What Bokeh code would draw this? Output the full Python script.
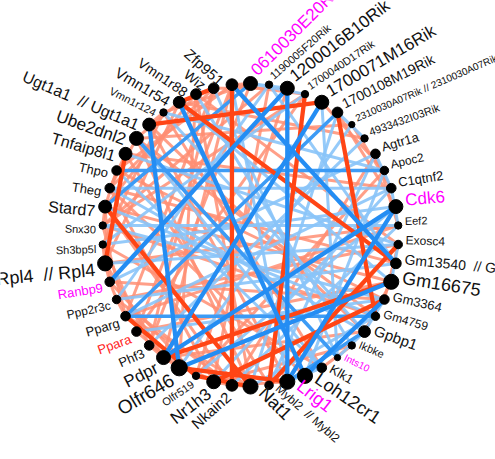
import numpy as np
from bokeh.plotting import figure
from bokeh.models import ColumnDataSource, Range1d
from bokeh.core.properties import value
from bokeh.embed import file_html
from bokeh.resources import INLINE

# ---- network data -------------------------------------------------------
genes = [
    "0610030E20Rik", "1190005F20Rik", "1200016B10Rik", "1700040D17Rik",
    "1700071M16Rik", "1700108M19Rik", "2310030A07Rik // 2310030A07Rik",
    "4933432I03Rik", "Agtr1a", "Apoc2", "C1qtnf2", "Cdk6", "Eef2", "Exosc4",
    "Gm13540\u00a0 // Gm13540", "Gm16675", "Gm3364", "Gm4759", "Gpbp1", "Ikbke",
    "Ints10", "Klk1", "Loh12cr1", "Lrig1", "Mybl2\u00a0 // Mybl2", "Nat1",
    "Nkain2", "Nr1h3", "Olfr519", "Olfr646", "Pdpr", "Phf3", "Ppara", "Pparg",
    "Ppp2r3c", "Ranbp9", "Rpl4\u00a0 // Rpl4", "Sh3bp5l", "Snx30", "Stard7",
    "Theg", "Thpo", "Tnfaip8l1", "Ube2dnl2", "Ugt1a1\u00a0 // Ugt1a1",
    "Vmn1r124", "Vmn1r54", "Vmn1r88", "Wiz", "Zfp951",
]
degree = [
    10, 4, 10, 4, 10, 7, 3, 4, 6, 5, 6, 10, 4, 5, 7, 11, 6, 5, 8, 4,
    3, 6, 11, 11, 5, 11, 8, 10, 4, 12, 10, 6, 6, 6, 5, 6, 11, 4, 4, 9,
    6, 6, 9, 10, 9, 4, 8, 7, 7, 8,
]
highlight_genes = ["0610030E20Rik", "Cdk6", "Ints10", "Lrig1", "Ranbp9"]
tf_genes = ["Ppara"]

UGT = "Ugt1a1\u00a0 // Ugt1a1"
RPL = "Rpl4\u00a0 // Rpl4"
MYB = "Mybl2\u00a0 // Mybl2"
GM135 = "Gm13540\u00a0 // Gm13540"
A231 = "2310030A07Rik // 2310030A07Rik"

# correlation edges: (gene A, gene B, correlation)
edges = [
    # strong positive
    (UGT, "1700071M16Rik", 0.96), ("Tnfaip8l1", RPL, 0.96),
    ("1700108M19Rik", "Gm4759", 0.96), ("Zfp951", "Nkain2", 0.96),
    ("Vmn1r54", GM135, 0.93), ("Olfr646", "Lrig1", 0.96),
    ("Nr1h3", "Gm3364", 0.96), (MYB, "Exosc4", 0.93),
    ("Wiz", "Vmn1r54", 0.96), ("1700040D17Rik", MYB, 0.93),
    ("Stard7", "Nat1", 0.93), ("Pparg", "Olfr519", 0.96),
    ("Olfr519", "Nat1", 0.96), ("Pdpr", "Gm16675", 0.93),
    # strong negative
    ("Olfr646", "Gm16675", -0.96), ("1200016B10Rik", "Ranbp9", -0.96),
    ("1700071M16Rik", "Pdpr", -0.96), ("1200016B10Rik", "Lrig1", -0.96),
    ("Cdk6", "Lrig1", -0.96), (GM135, "Zfp951", -0.96),
    ("Vmn1r54", "Loh12cr1", -0.96), (UGT, "Olfr646", -0.96),
    ("Loh12cr1", "Gm3364", -0.96), ("Pdpr", "Cdk6", -0.96),
    # medium negative
    ("1700108M19Rik", "Pparg", -0.9), ("Pparg", "Gm4759", -0.9),
    ("Thpo", "Apoc2", -0.9), ("Lrig1", "Gpbp1", -0.9),
    ("0610030E20Rik", "Stard7", -0.9), ("Ube2dnl2", "Ints10", -0.9),
    # weaker negative
    ("Ranbp9", "Agtr1a", -0.82), ("Pparg", "C1qtnf2", -0.82),
    ("Nat1", "Gm4759", -0.82),
    ("Theg", "C1qtnf2", -0.82), ("1190005F20Rik", GM135, -0.82),
    ("1700040D17Rik", "Sh3bp5l", -0.82), ("Wiz", "Ints10", -0.82),
    ("Eef2", "Snx30", -0.82), ("Apoc2", "Vmn1r124", -0.82),
    ("0610030E20Rik", "1200016B10Rik", -0.82),
    ("4933432I03Rik", "Phf3", -0.82), ("Gm4759", "Stard7", -0.82),
    ("Gpbp1", "Theg", -0.82), ("Ikbke", "Vmn1r88", -0.82),
    ("Klk1", "Ube2dnl2", -0.82), ("Exosc4", "Tnfaip8l1", -0.82),
    ("Gm3364", "Ppara", -0.82), ("Cdk6", "Sh3bp5l", -0.82),
    ("C1qtnf2", "Nr1h3", -0.82), (A231, "Olfr646", -0.82),
    (MYB, "Agtr1a", -0.82), ("Nkain2", "Eef2", -0.82),
    ("1700108M19Rik", "Nat1", -0.82), ("Gm16675", "Vmn1r54", -0.82),
    ("Lrig1", "Zfp951", -0.82), ("Loh12cr1", "Apoc2", -0.82),
    ("Ints10", "1700071M16Rik", -0.82), ("Snx30", "Gm3364", -0.82),
    (RPL, "Exosc4", -0.82), ("Thpo", "Klk1", -0.82),
    ("Ppp2r3c", GM135, -0.82), ("1190005F20Rik", "Ppp2r3c", -0.82),
    ("Vmn1r124", "Gpbp1", -0.82), ("Olfr519", "Cdk6", -0.82),
    ("1700108M19Rik", "4933432I03Rik", -0.82), ("Agtr1a", "C1qtnf2", -0.82),
    ("C1qtnf2", "Eef2", -0.82), ("Exosc4", "Gm16675", -0.82),
    ("Gm3364", "Gpbp1", -0.82), ("Gpbp1", "Ints10", -0.82),
    ("Klk1", "Lrig1", -0.82), ("0610030E20Rik", "1700040D17Rik", -0.82),
    # weaker positive
    ("Stard7", "Vmn1r88", 0.82), ("Theg", "Wiz", 0.82),
    ("Thpo", "Zfp951", 0.82), ("Snx30", "1190005F20Rik", 0.82),
    ("Sh3bp5l", "Vmn1r124", 0.82), (RPL, "Vmn1r54", 0.82),
    ("Ranbp9", "Gm3364", 0.82), ("Ppp2r3c", "Exosc4", 0.82),
    ("Pparg", "Eef2", 0.82), ("Ppara", "1700040D17Rik", 0.82),
    ("Phf3", "Wiz", 0.82), ("Pdpr", "Zfp951", 0.82),
    ("Olfr646", "Vmn1r88", 0.82), ("Olfr519", "1200016B10Rik", 0.82),
    ("Nr1h3", "Theg", 0.82), ("Nkain2", "Stard7", 0.82),
    ("Nat1", "Ube2dnl2", 0.82), (MYB, "Tnfaip8l1", 0.82),
    ("Stard7", "Gm16675", 0.82), ("Ube2dnl2", "Gm4759", 0.82),
    (UGT, "Gpbp1", 0.82), ("Vmn1r124", "Klk1", 0.82),
    ("Vmn1r88", "Nat1", 0.82), ("Wiz", "Pparg", 0.82),
    ("Zfp951", "Ppara", 0.82), ("0610030E20Rik", "Phf3", 0.82),
    ("1190005F20Rik", "Nr1h3", 0.82), ("1700040D17Rik", "Snx30", 0.82),
    (A231, "Ube2dnl2", 0.82), ("4933432I03Rik", "Vmn1r54", 0.82),
    ("Agtr1a", "Nkain2", 0.82), ("Apoc2", "Olfr519", 0.82),
    ("C1qtnf2", "Tnfaip8l1", 0.82), ("Eef2", RPL, 0.82),
    ("Exosc4", "Vmn1r88", 0.82), (GM135, "Theg", 0.82),
    ("Gm16675", "Ppara", 0.82), ("Gm3364", "Thpo", 0.82),
    ("Gm4759", "Snx30", 0.82), ("Gpbp1", "Pdpr", 0.82),
    ("Ikbke", "Nr1h3", 0.82), ("Klk1", "Sh3bp5l", 0.82),
    ("Loh12cr1", "Theg", 0.82), ("Lrig1", UGT, 0.82),
    ("Theg", "Tnfaip8l1", 0.82), ("Stard7", "Ranbp9", 0.82),
    ("Snx30", "Pparg", 0.82), ("Sh3bp5l", "Phf3", 0.82),
    (RPL, "Pdpr", 0.82), ("Ranbp9", "Olfr519", 0.82),
    ("Ppp2r3c", "Nkain2", 0.82), ("Pparg", "Nat1", 0.82),
    ("Ppara", "Olfr646", 0.82), ("Phf3", "Nr1h3", 0.82),
    ("Vmn1r54", "Ube2dnl2", 0.82), ("Wiz", "1200016B10Rik", 0.82),
    ("Zfp951", "1700040D17Rik", 0.82), ("Vmn1r124", "0610030E20Rik", 0.82),
    ("1700071M16Rik", "Apoc2", 0.82), (A231, "C1qtnf2", 0.82),
    ("1700108M19Rik", "Cdk6", 0.82), ("Agtr1a", "Eef2", 0.82),
    ("Exosc4", "Gm3364", 0.82), ("Gm16675", "Gpbp1", 0.82),
    ("Ikbke", "Klk1", 0.82), ("Nkain2", "Lrig1", 0.82),
    ("Thpo", "Stard7", 0.82), ("Ube2dnl2", "Theg", 0.82),
    (RPL, "Ranbp9", 0.82), ("Ranbp9", "Ppp2r3c", 0.82),
    ("Ppp2r3c", "Pparg", 0.82), ("Phf3", "Pdpr", 0.82),
    ("Pdpr", "Olfr646", 0.82), ("Nr1h3", "Nkain2", 0.82),
    ("Nkain2", "Nat1", 0.82), ("Snx30", "Stard7", 0.82),
    ("Sh3bp5l", RPL, 0.82), ("Vmn1r124", UGT, 0.82),
    ("Zfp951", "0610030E20Rik", 0.82), ("Vmn1r88", "Wiz", 0.82),
]

# ---- layout -------------------------------------------------------------
W, H = 495, 459
CX, CY = 250.0, H - 234.5
RX, RY = 148.0, 151.5
n = len(genes)
idx = {g: i for i, g in enumerate(genes)}

theta = np.deg2rad(90.0 - 360.0 * np.arange(n) / n)
nx = CX + RX * np.cos(theta)
ny = CY + RY * np.sin(theta)
deg = np.array(degree, dtype=float)
node_size = 3.0 + 1.1 * deg
font_px = 7.0 + deg


def label_color(g):
    if g in highlight_genes:
        return "#FF00FF"
    if g in tf_genes:
        return "#FF1A1A"
    return "#111111"


# ---- figure -------------------------------------------------------------
p = figure(width=W, height=H, x_range=Range1d(0, W), y_range=Range1d(0, H),
           output_backend="svg", toolbar_location=None, min_border=0,
           x_axis_location=None, y_axis_location=None)
p.grid.visible = False
p.outline_line_color = None
p.background_fill_color = "white"
p.border_fill_color = "white"

# edges: weak ones first, strong on top, negatives above positives
a = np.array([idx[e[0]] for e in edges])
b = np.array([idx[e[1]] for e in edges])
r = np.array([e[2] for e in edges])
order = np.lexsort((r < 0, np.abs(r)))


def edge_style(v):
    if v >= 0.9:
        return "#FF4515", 4.3, 1.0
    if v > 0:
        return "#FF8E73", 3.0, 0.85
    if v <= -0.95:
        return "#248DF3", 4.3, 1.0
    if v <= -0.88:
        return "#3C9BF5", 3.6, 1.0
    return "#8AC4F8", 3.0, 0.9


styles = [edge_style(v) for v in r[order]]
edge_src = ColumnDataSource(dict(
    x0=nx[a][order], y0=ny[a][order], x1=nx[b][order], y1=ny[b][order],
    color=[s[0] for s in styles], width=[s[1] for s in styles],
    alpha=[s[2] for s in styles],
))
p.segment("x0", "y0", "x1", "y1", source=edge_src, line_color="color",
          line_width="width", line_alpha="alpha")

# nodes
p.scatter(nx, ny, size=node_size, fill_color="black", line_color="black")

# labels: right half reads outward, left half reads inward toward the node
for side in ("right", "left"):
    ks = np.arange(0, n // 2 + 1) if side == "right" else np.arange(n // 2 + 1, n)
    lx, ly, ang, txt, fs, col = [], [], [], [], [], []
    for k in ks:
        t = np.rad2deg(theta[k]) % 360.0
        if side == "right":
            t = t if t <= 90 else t - 360.0
            phi = np.deg2rad(t / 2.0)
            sgn = 1.0
        else:
            phi = np.deg2rad((t - 180.0) / 2.0)
            sgn = -1.0
        d = np.array([np.cos(phi), np.sin(phi)])
        nrm = np.array([-np.sin(phi), np.cos(phi)])
        gap = node_size[k] / 2.0 + 3.0
        off = 2.0 + 0.2 * font_px[k]
        pos = np.array([nx[k], ny[k]]) + sgn * d * gap + sgn * nrm * off
        lx.append(pos[0]); ly.append(pos[1]); ang.append(phi)
        txt.append(genes[k]); fs.append(f"{font_px[k]:.1f}px")
        col.append(label_color(genes[k]))
    src = ColumnDataSource(dict(x=lx, y=ly, angle=ang, text=txt, fs=fs, col=col))
    p.text("x", "y", text="text", angle="angle", source=src,
           text_font=value("Liberation Sans"), text_font_size="fs",
           text_color="col", text_align="left" if side == "right" else "right",
           text_baseline="middle")

open("out.html", "w").write(file_html(p, INLINE))
